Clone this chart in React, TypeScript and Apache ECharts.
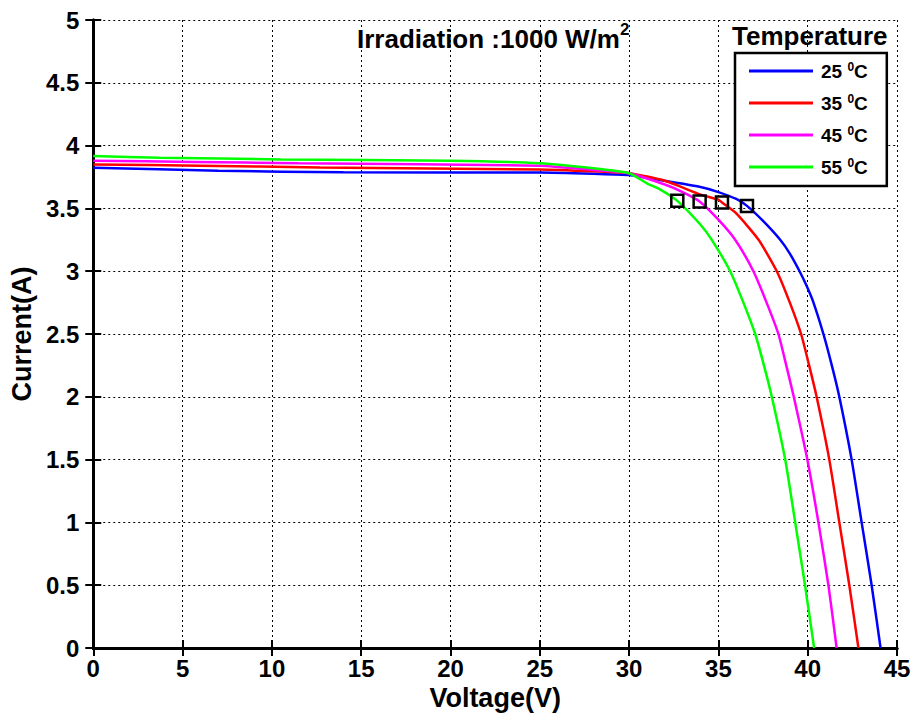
import React, { useEffect, useRef } from "react";
import * as echarts from "echarts";

// ---- data ----
const temperatures = ["25", "35", "45", "55"];
const colors = ["#0000ff", "#ff0000", "#ff00ff", "#00ff00"];

const v25 = [0, 7, 14, 25, 28, 30, 32, 34, 35, 36, 36.6, 37.5, 38.46, 39.0, 39.58, 39.95, 40.3, 40.88, 41.35, 41.77, 42.46, 43.02, 43.58, 44.08];
const i25 = [3.824, 3.8, 3.787, 3.785, 3.775, 3.765, 3.72, 3.67, 3.63, 3.575, 3.52, 3.4, 3.25, 3.14, 2.99, 2.88, 2.76, 2.5, 2.25, 2.0, 1.5, 1.0, 0.5, 0];

const v35 = [0, 6, 12.7, 25, 28, 30, 32, 34, 35, 35.2, 36, 37.25, 38.27, 39.0, 39.63, 40.08, 40.5, 41.21, 41.77, 42.33, 42.84];
const i35 = [3.85, 3.84, 3.826, 3.81, 3.795, 3.78, 3.72, 3.61, 3.57, 3.547, 3.46, 3.25, 3.0, 2.75, 2.5, 2.25, 2.0, 1.5, 1.0, 0.5, 0];

const v45 = [0, 5.6, 11.5, 25, 28, 30, 32, 33, 33.95, 35, 35.94, 36.96, 37.7, 38.36, 38.8, 39.22, 39.98, 40.6, 41.16, 41.62];
const i45 = [3.88, 3.87, 3.86, 3.84, 3.806, 3.78, 3.69, 3.63, 3.555, 3.41, 3.25, 3.0, 2.75, 2.5, 2.25, 2.0, 1.5, 1.0, 0.5, 0];

const v55 = [0, 3.7, 10.5, 20, 25, 28, 30, 31, 31.75, 32.7, 34, 34.63, 35.66, 36.4, 37.06, 37.55, 37.99, 38.74, 39.3, 39.85, 40.36];
const i55 = [3.917, 3.904, 3.89, 3.88, 3.86, 3.82, 3.78, 3.7, 3.65, 3.56, 3.37, 3.25, 3.0, 2.75, 2.5, 2.25, 2.0, 1.5, 1.0, 0.5, 0];

const mppV = [32.7, 33.95, 35.2, 36.6];
const mppI = [3.56, 3.555, 3.547, 3.52];

const xTicks = { min: 0, max: 45, interval: 5 };
const yTicks = { min: 0, max: 5, interval: 0.5 };

const FONT = "'Liberation Sans', Arial, Helvetica, sans-serif";

export default function App() {
  const ref = useRef<HTMLDivElement>(null);
  useEffect(() => {
    if (!ref.current) return;
    const chart = echarts.init(ref.current, null, { renderer: "svg" });
    const curves = [
      [v25, i25],
      [v35, i35],
      [v45, i45],
      [v55, i55],
    ];
    const lineSeries = curves.map(([vs, is], k) => ({
      name: temperatures[k],
      type: "line",
      data: vs.map((v, j) => [v, is[j]]),
      showSymbol: false,
      symbol: "none",
      smooth: 0.2,
      lineStyle: { color: colors[k], width: 2.5 },
      itemStyle: { color: colors[k] },
      z: 3 + k,
    }));
    const frameAxis = {
      axisLine: { show: true, lineStyle: { color: "#000", width: 3 } },
      axisTick: { show: true, inside: true, length: 8, lineStyle: { color: "#000", width: 2 } },
      splitLine: { show: false },
      axisLabel: { show: false },
    };
    chart.setOption({
      animation: false,
      backgroundColor: "#fff",
      title: [
        {
          text: "{t|Irradiation :1000 W/m}{s|2}",
          left: 357,
          top: 21,
          padding: 0,
          textStyle: {
            rich: {
              t: { fontFamily: FONT, fontSize: 26, color: "#000", fontWeight: "bold", verticalAlign: "bottom", lineHeight: 31 },
              s: { fontFamily: FONT, fontSize: 17, color: "#000", fontWeight: "bold", verticalAlign: "top", lineHeight: 31 },
            },
          },
        },
        {
          text: "Temperature",
          left: 732,
          top: 23,
          padding: 0,
          textStyle: { fontFamily: FONT, fontSize: 26, fontWeight: "bold", color: "#000" },
        },
      ],
      legend: {
        data: temperatures,
        orient: "vertical",
        left: 735,
        top: 53,
        padding: [8, 19, 9, 14],
        itemGap: 12,
        itemWidth: 64,
        itemHeight: 3,
        icon: "rect",
        backgroundColor: "#fff",
        borderColor: "#000",
        borderWidth: 2.5,
        formatter: (name: string) => `{n|${name} }{s|0}{n|C}`,
        textStyle: {
          padding: [0, 0, 0, 3],
          rich: {
            n: { fontFamily: FONT, fontSize: 19, fontWeight: "bold", color: "#000", verticalAlign: "bottom", lineHeight: 20 },
            s: { fontFamily: FONT, fontSize: 12, fontWeight: "bold", color: "#000", verticalAlign: "top", lineHeight: 20 },
          },
        },
      },
      grid: { left: 92, top: 20, width: 805, height: 628, containLabel: false },
      xAxis: [
        {
          type: "value",
          ...xTicks,
          position: "bottom",
          name: "Voltage(V)",
          nameLocation: "middle",
          nameGap: 33,
          nameTextStyle: { fontFamily: FONT, fontSize: 27, fontWeight: "bold", color: "#000" },
          axisLine: { show: true, onZero: false, lineStyle: { color: "#000", width: 3 } },
          axisTick: { show: true, inside: true, length: 8, lineStyle: { color: "#000", width: 2 } },
          axisLabel: { fontFamily: FONT, fontSize: 24, fontWeight: "bold", color: "#000", margin: 8 },
          splitLine: { show: true, lineStyle: { color: "#000", width: 1, type: [2, 3] } },
        },
        { type: "value", ...xTicks, position: "top", ...frameAxis },
      ],
      yAxis: [
        {
          type: "value",
          ...yTicks,
          position: "left",
          name: "Current(A)",
          nameLocation: "middle",
          nameGap: 54,
          nameTextStyle: { fontFamily: FONT, fontSize: 27, fontWeight: "bold", color: "#000" },
          axisLine: { show: true, onZero: false, lineStyle: { color: "#000", width: 3 } },
          axisTick: { show: true, inside: true, length: 8, lineStyle: { color: "#000", width: 2 } },
          axisLabel: { fontFamily: FONT, fontSize: 24, fontWeight: "bold", color: "#000", margin: 14 },
          splitLine: { show: true, lineStyle: { color: "#000", width: 1, type: [2, 3] } },
        },
        { type: "value", ...yTicks, position: "right", ...frameAxis },
      ],
      series: [
        ...lineSeries,
        {
          name: "MPP",
          type: "scatter",
          data: mppV.map((v, j) => [v, mppI[j]]),
          symbol: "rect",
          symbolSize: 12,
          itemStyle: { color: "rgba(255,255,255,0)", borderColor: "#000000", borderWidth: 2.5, opacity: 1 },
          emphasis: { disabled: true },
          z: 10,
        },
      ],
    });
    return () => chart.dispose();
  }, []);
  return (
    <div
      ref={ref}
      style={{ position: "fixed", left: 0, top: 0, width: 917, height: 719, background: "#fff" }}
    />
  );
}
